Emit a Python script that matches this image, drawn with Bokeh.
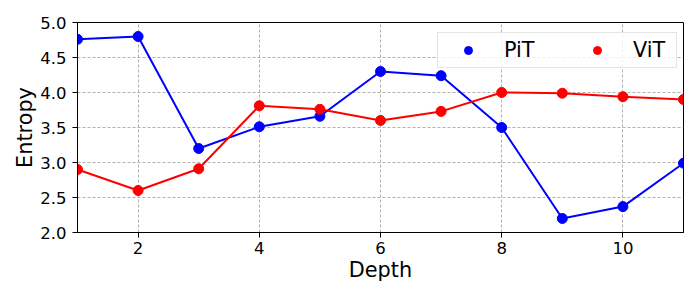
from bokeh.plotting import figure
from bokeh.models import Range1d, Legend, LegendItem, FixedTicker, CustomJSTickFormatter
from bokeh.embed import file_html
from bokeh.resources import INLINE

depth = [1, 2, 3, 4, 5, 6, 7, 8, 9, 10, 11]
pit = [4.76, 4.80, 3.20, 3.51, 3.66, 4.30, 4.24, 3.50, 2.20, 2.37, 2.99]
vit = [2.90, 2.60, 2.91, 3.81, 3.76, 3.60, 3.73, 4.00, 3.99, 3.94, 3.90]
x_ticks = [2, 4, 6, 8, 10]
y_ticks = [2.0, 2.5, 3.0, 3.5, 4.0, 4.5, 5.0]

FONT = "DejaVu Sans"

p = figure(width=684, height=284, output_backend="svg", toolbar_location=None,
           x_range=Range1d(1, 11), y_range=Range1d(2, 5),
           min_border_left=77, min_border_right=1, min_border_top=22, min_border_bottom=52)

p.outline_line_color = "black"
p.outline_line_width = 1
p.background_fill_color = "white"
p.border_fill_color = "white"

for ax in (p.xaxis[0], p.yaxis[0]):
    ax.major_label_text_font = FONT
    ax.major_label_text_font_size = "16.5px"
    ax.major_label_text_color = "black"
    ax.axis_label_text_font = FONT
    ax.axis_label_text_font_size = "20.8px"
    ax.axis_label_text_font_style = "normal"
    ax.axis_label_text_color = "black"
    ax.axis_line_color = "black"
    ax.major_tick_line_color = "black"
    ax.major_tick_out = 5
    ax.major_tick_in = 0
    ax.minor_tick_line_color = None

p.xaxis.ticker = FixedTicker(ticks=x_ticks)
p.yaxis.ticker = FixedTicker(ticks=y_ticks)
p.yaxis.formatter = CustomJSTickFormatter(code="return tick.toFixed(1);")
p.xaxis.axis_label = "Depth"
p.yaxis.axis_label = "Entropy"
p.xaxis.axis_label_standoff = 1
p.yaxis.axis_label_standoff = 0
p.xaxis.major_label_standoff = 4
p.yaxis.major_label_standoff = 6

p.grid.grid_line_color = "#b0b0b0"
p.grid.grid_line_dash = "3 2"
p.grid.grid_line_width = 1

p.line(depth, pit, color="blue", line_width=2)
r_pit = p.scatter(depth, pit, size=10, color="blue")
p.line(depth, vit, color="red", line_width=2)
r_vit = p.scatter(depth, vit, size=10, color="red")

legend = Legend(items=[LegendItem(label="PiT", renderers=[r_pit]),
                       LegendItem(label="ViT", renderers=[r_vit])],
                location=(360, 164), orientation="horizontal",
                padding=5, spacing=30, glyph_width=50, glyph_height=20,
                label_standoff=11, label_width=38, label_text_font=FONT,
                label_text_font_size="20.8px", label_text_color="black",
                border_line_color="#cccccc", border_line_width=1,
                background_fill_alpha=0.8, margin=0)
p.add_layout(legend, "center")

open("out.html", "w").write(file_html(p, INLINE))
